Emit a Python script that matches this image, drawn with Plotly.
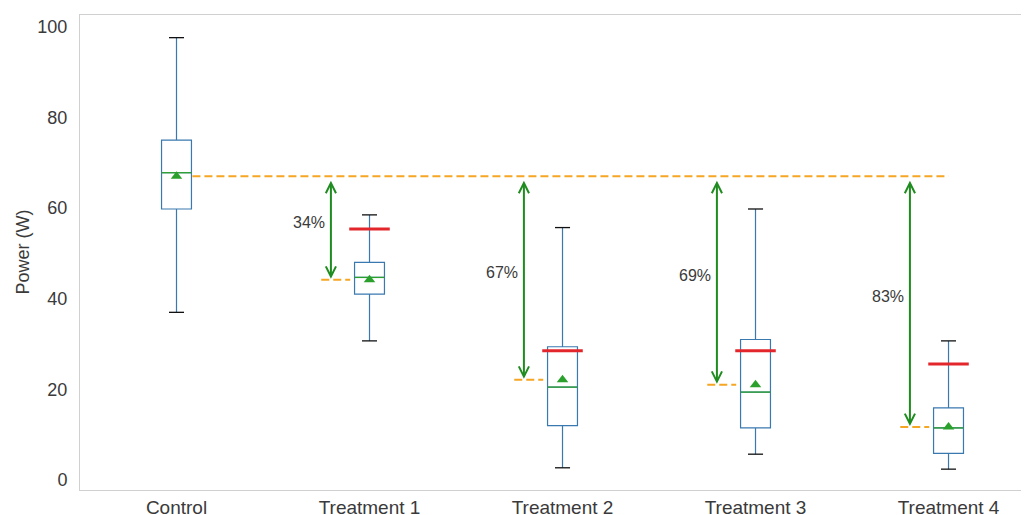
import plotly.graph_objects as go

categories = ["Control", "Treatment 1", "Treatment 2", "Treatment 3", "Treatment 4"]
q1 = [59.8, 41.0, 12.0, 11.5, 5.9]
median = [67.8, 44.7, 20.5, 19.4, 11.5]
q3 = [75.0, 48.0, 29.4, 31.0, 15.9]
lower = [37.0, 30.7, 2.7, 5.7, 2.4]
upper = [97.6, 58.5, 55.7, 59.8, 30.7]
mean = [67.0, 44.2, 22.1, 21.0, 11.7]
target = [None, 55.4, 28.5, 28.5, 25.6]
pct_labels = ["34%", "67%", "69%", "83%"]
y_ticks = [0, 20, 40, 60, 80, 100]
y_title = "Power (W)"

pos = list(range(len(categories)))
BOX_W = 0.155
CAP_W = 0.039
RED_W = 0.105
BLUE = "#3a78b0"
GREEN = "#2ca02c"
ARROW_GREEN = "#1e8c1e"
ORANGE = "#f5a623"
RED = "#e3262b"
TEXT = "#3a3a3a"

fig = go.Figure()

fig.add_trace(go.Box(
    x=pos, q1=q1, median=median, q3=q3, lowerfence=lower, upperfence=upper,
    width=BOX_W, whiskerwidth=0, fillcolor="rgba(255,255,255,0)",
    line=dict(color=BLUE, width=1.2), boxpoints=False, hoverinfo="skip",
    showlegend=False,
))

def segs(centers, half, levels, offset=0.0):
    xs, ys = [], []
    for c, v in zip(centers, levels):
        if v is None:
            continue
        xs += [c + offset - half, c + offset + half, None]
        ys += [v, v, None]
    return xs, ys

# caps
for lv in (upper, lower):
    xs, ys = segs(pos, CAP_W, lv)
    fig.add_trace(go.Scatter(x=xs, y=ys, mode="lines", line=dict(color="#111111", width=1.3),
                             hoverinfo="skip", showlegend=False))

# medians
xs, ys = segs(pos, BOX_W / 2, median)
fig.add_trace(go.Scatter(x=xs, y=ys, mode="lines", line=dict(color=GREEN, width=1.3),
                         hoverinfo="skip", showlegend=False))

# targets (red)
xs, ys = segs(pos, RED_W, target)
fig.add_trace(go.Scatter(x=xs, y=ys, mode="lines", line=dict(color=RED, width=3),
                         hoverinfo="skip", showlegend=False))

# control mean reference line
fig.add_trace(go.Scatter(x=[pos[0] + BOX_W / 2 + 0.005, pos[-1]], y=[mean[0], mean[0]], mode="lines",
                         line=dict(color=ORANGE, width=2, dash="8px,4px"),
                         hoverinfo="skip", showlegend=False))
# short mean lines at treatments
xs, ys = segs(pos[1:], 0.075, mean[1:], offset=-0.175)
fig.add_trace(go.Scatter(x=xs, y=ys, mode="lines",
                         line=dict(color=ORANGE, width=2, dash="8px,4px"),
                         hoverinfo="skip", showlegend=False))

# means
fig.add_trace(go.Scatter(x=pos, y=mean, mode="markers",
                         marker=dict(symbol="triangle-up", size=10, color=GREEN),
                         hoverinfo="skip", showlegend=False))

annotations = []
for p, m, lab in zip(pos[1:], mean[1:], pct_labels):
    ax_x = p - 0.2
    annotations.append(dict(
        x=ax_x, y=m, ax=ax_x, ay=mean[0], xref="x", yref="y", axref="x", ayref="y",
        text="", showarrow=True, arrowside="end+start", arrowhead=5, startarrowhead=5,
        arrowsize=1, startarrowsize=1, arrowwidth=2, arrowcolor=ARROW_GREEN,
        standoff=1, startstandoff=3,
    ))
    annotations.append(dict(
        x=ax_x - 0.114, y=(mean[0] + m) / 2 + 1.2, xref="x", yref="y",
        text=lab, showarrow=False, font=dict(size=16, color=TEXT),
    ))

# y-axis title placed as a rotated paper annotation
annotations.append(dict(
    x=-0.061, y=0.5, xref="paper", yref="paper", text=y_title, textangle=-90,
    showarrow=False, xanchor="center", yanchor="middle", font=dict(size=18, color=TEXT),
))

# page body has an 8px default margin; size the figure so the plot area lands where the reference has it
fig.update_layout(
    width=1021, height=507, autosize=False,
    margin=dict(l=72, r=0, t=7, b=25),
    paper_bgcolor="white", plot_bgcolor="white",
    font=dict(family="Liberation Sans, Arial, sans-serif", size=18, color=TEXT),
    annotations=annotations,
    xaxis=dict(
        range=[-0.5, 4.417], tickmode="array", tickvals=pos, ticktext=categories,
        showgrid=False, zeroline=False, showline=True, linecolor="#d0d0d0", linewidth=1,
        mirror=True, ticks="", ticklabelstandoff=0, tickfont=dict(size=19, color=TEXT),
        automargin=False,
    ),
    yaxis=dict(
        range=[-2.2, 102.6], tickmode="array", tickvals=y_ticks,
        showgrid=False, zeroline=False, showline=True, linecolor="#d0d0d0", linewidth=1,
        ticks="", ticklabelstandoff=8, tickfont=dict(size=18, color=TEXT),
        automargin=False,
    ),
)

fig.write_html("out.html")
